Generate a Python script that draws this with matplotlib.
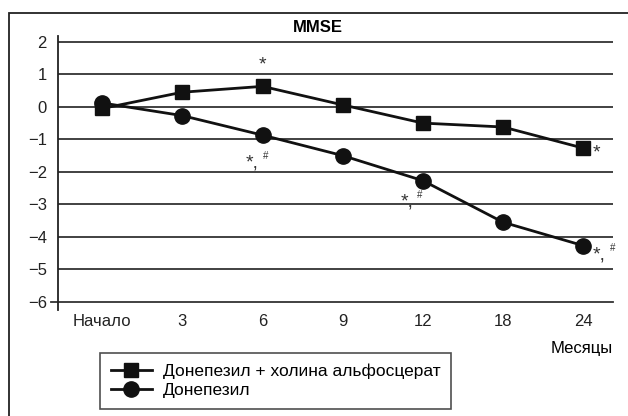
import matplotlib
matplotlib.use('Agg')
import matplotlib.pyplot as plt
from matplotlib.patches import Rectangle

plt.rcParams['font.family'] = ['Liberation Sans', 'DejaVu Sans']

months = ['Начало', '3', '6', '9', '12', '18', '24']
combo = [-0.05, 0.45, 0.63, 0.06, -0.5, -0.62, -1.27]
donepezil = [0.12, -0.27, -0.87, -1.5, -2.27, -3.55, -4.27]
combo_name = 'Донепезил + холина альфосцерат'
donepezil_name = 'Донепезил'

fig = plt.figure(figsize=(6.28, 4.16), dpi=100)
ax = fig.add_axes([0.0924, 0.2548, 0.8836, 0.6587])

# outer frame, open to the right and bottom
fig.patches.append(Rectangle((9 / 628, -0.1), 1.2, 1 - 13 / 416 + 0.1,
                             transform=fig.transFigure, fill=False,
                             edgecolor='#222222', linewidth=1.3))

x = list(range(len(months)))
for v in range(-5, 3):
    ax.axhline(v, color='#333333', linewidth=1.3, zorder=1)
ax.axhline(-6, xmin=-0.012, color='#333333', linewidth=1.3, zorder=1,
           clip_on=False)

ax.plot(x, combo, color='#111111', linewidth=2, marker='s', markersize=10,
        label=combo_name, zorder=3)
ax.plot(x, donepezil, color='#111111', linewidth=2, marker='o', markersize=11,
        label=donepezil_name, zorder=3)

ax.set_xlim(-0.55, 6.37)
ax.set_ylim(-6.25, 2.18)
ax.set_yticks(range(-6, 3))
ax.set_yticklabels([str(v).replace('-', '\u2212') for v in range(-6, 3)])
ax.set_xticks(x)
ax.set_xticklabels(months)
ax.tick_params(axis='both', length=0, labelsize=12, colors='#222222')
ax.tick_params(axis='y', pad=8)
ax.tick_params(axis='x', pad=3)
for s in ['top', 'right', 'bottom']:
    ax.spines[s].set_visible(False)
ax.spines['left'].set_linewidth(1.3)
ax.spines['left'].set_color('#222222')

# significance marks
ax.text(2, 1.3, '*', ha='center', va='center', fontsize=14, color='#333333')
ax.text(6.16, -1.42, '*', ha='center', va='center', fontsize=14,
        color='#333333')
for xi, yi in [(1.95, -1.72), (3.88, -2.92), (6.28, -4.55)]:
    ax.text(xi, yi, '*,', ha='right', va='center', fontsize=14,
            color='#333333')
    ax.text(xi + 0.05, yi + 0.2, '#', ha='left', va='center', fontsize=7,
            color='#333333')

fig.text(318 / 628, 1 - 27 / 416, 'MMSE', ha='center', va='center',
         fontsize=12, fontweight='bold')
fig.text(613 / 628, 1 - 349 / 416, 'Месяцы', ha='right', va='center',
         fontsize=12)

leg = fig.legend(loc='lower left', bbox_to_anchor=(95 / 628, 2 / 416),
                 fontsize=12.5, frameon=True, fancybox=False,
                 handlelength=2.4, borderpad=0.6, labelspacing=0.25,
                 handletextpad=0.6, borderaxespad=0.3)
leg.get_frame().set_edgecolor('#222222')
leg.get_frame().set_linewidth(1.2)

fig.savefig('out.png', dpi=100)
